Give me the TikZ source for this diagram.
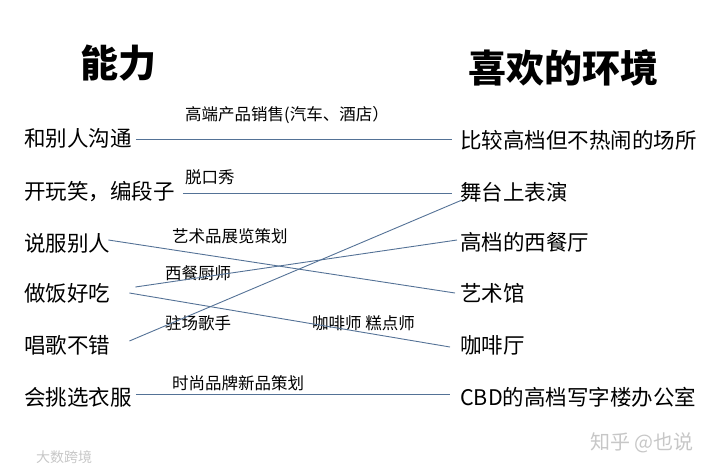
\documentclass[tikz,border=0pt]{standalone}
\usepackage{fontspec}
\setmainfont{Noto Sans CJK SC}
\usepackage{tikz}
\usetikzlibrary{positioning,calc}
\usepackage{xcolor}
\definecolor{linkblue}{RGB}{84,114,150}

\begin{document}
\begin{tikzpicture}[x=1pt, y=-1pt,
  title/.style={anchor=west, inner sep=0pt, font=\fontsize{38}{40}\selectfont\bfseries},
  skill/.style={anchor=west, inner sep=4pt, font=\fontsize{21.5}{24}\selectfont},
  place/.style={anchor=west, inner sep=8pt, font=\fontsize{21.5}{24}\selectfont},
  job/.style={anchor=west, inner sep=0pt, font=\fontsize{16.5}{18}\selectfont},
  wmark/.style={anchor=west, inner sep=0pt, text=black!22},
  link/.style={draw=linkblue, line width=0.9pt}
]
\useasboundingbox (0,0) rectangle (720,472);

% headings
\node[title] (abil) at (80,63) {能力};
\node[title] (envi) at (468,68) {喜欢的环境};

% left column
\node[skill] (talk) at (20,138) {和别人沟通};
\node[skill] (joke) at (20,192) {开玩笑，编段子};
\node[skill] (pers) at (20,243) {说服别人};
\node[skill] (cook) at (20,293) {做饭好吃};
\node[skill] (sing) at (20,345) {唱歌不错};
\node[skill] (dress) at (20,397) {会挑选衣服};

% right column
\node[place] (quiet) at (452,140) {比较高档但不热闹的场所};
\node[place] (stage) at (452,192) {舞台上表演};
\node[place] (rest) at (452,242) {高档的西餐厅};
\node[place] (art) at (452,293) {艺术馆};
\node[place] (cafe) at (452,345) {咖啡厅};
\node[place] (cbd) at (452,397) {CBD的高档写字楼办公室};

% jobs on the lines
\node[job] (sales) at (185,115) {高端产品销售(汽车、酒店）};
\node[job] (talkshow) at (185,177) {脱口秀};
\node[job] (expo) at (172,236) {艺术品展览策划};
\node[job] (chef) at (165,273) {西餐厨师};
\node[job] (singer) at (165,323) {驻场歌手};
\node[job] (barista) at (312,323) {咖啡师 糕点师};
\node[job] (fashion) at (172,383) {时尚品牌新品策划};

\draw[link] ([yshift=-1pt]talk.east) -- ([yshift=1pt]quiet.west);
\draw[link] ([xshift=4pt,yshift=-1pt]joke.east) -- ([yshift=-1pt]stage.west);
\draw[link] ([xshift=-6pt,yshift=3pt]pers.east) -- ([xshift=3pt]art.west);
\draw[link] ([xshift=21pt,yshift=6pt]cook.east) -- ([xshift=5pt,yshift=2pt]rest.west);
\draw[link] ([xshift=15pt]cook.east) -- ([xshift=-2pt,yshift=-2pt]cafe.west);
\draw[link] ([xshift=15pt,yshift=4pt]sing.east) -- ([xshift=10pt,yshift=-8pt]stage.west);
\draw[link] ([yshift=3pt]dress.east) -- ([xshift=-2pt,yshift=3pt]cbd.west);

% watermarks
\node[wmark, font=\fontsize{20}{22}\selectfont] (zhihu) at (590,443) {知乎 @也说};
\node[wmark, font=\fontsize{14}{16}\selectfont] (dashu) at (36,457) {大数跨境};
\end{tikzpicture}
\end{document}
